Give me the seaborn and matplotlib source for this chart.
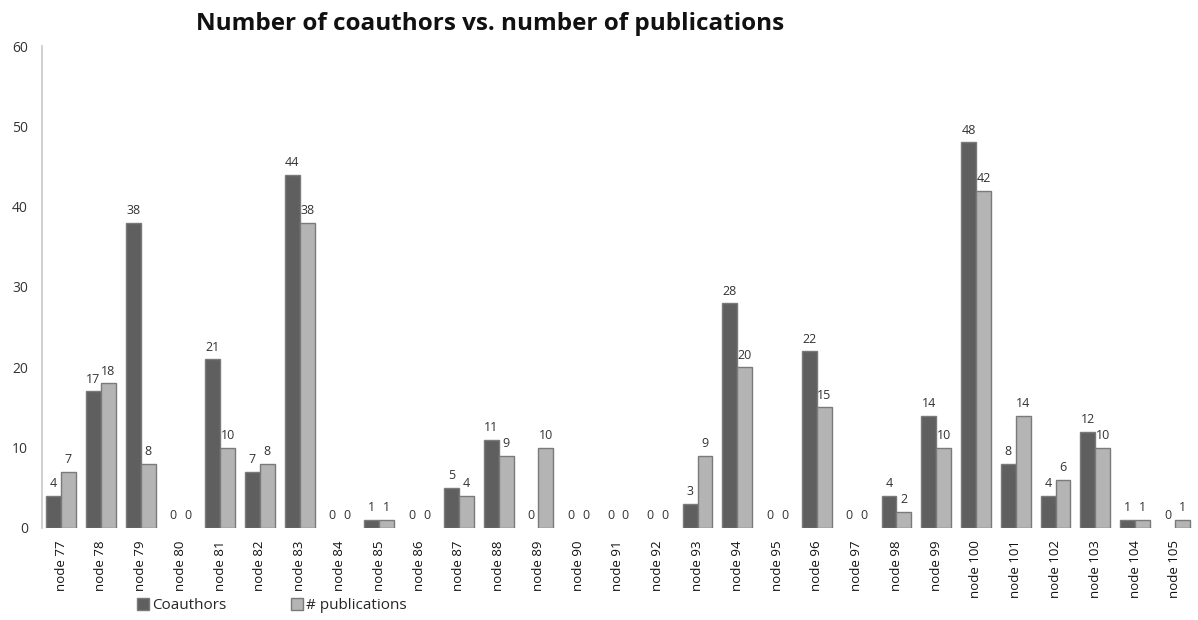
import matplotlib
matplotlib.use("Agg")
import matplotlib.pyplot as plt
import seaborn as sns
import pandas as pd
from matplotlib.patches import Patch

nodes = [f"node {i}" for i in range(77, 106)]
coauthors = [4, 17, 38, 0, 21, 7, 44, 0, 1, 0, 5, 11, 0, 0, 0, 0, 3, 28, 0, 22, 0, 4, 14, 48, 8, 4, 12, 1, 0]
publications = [7, 18, 8, 0, 10, 8, 38, 0, 1, 0, 4, 9, 10, 0, 0, 0, 9, 20, 0, 15, 0, 2, 10, 42, 14, 6, 10, 1, 1]
series_names = ["Coauthors", "# publications"]
y_ticks = [0, 10, 20, 30, 40, 50, 60]

df = pd.DataFrame({
    "node": nodes * 2,
    "value": coauthors + publications,
    "series": [series_names[0]] * len(nodes) + [series_names[1]] * len(nodes),
})

sns.set_style("white")
plt.rcParams["font.family"] = ["Open Sans", "DejaVu Sans"]

colors = {"Coauthors": "#5f5f5f", "# publications": "#b4b4b4"}

fig = plt.figure(figsize=(11.98, 6.2), dpi=100)
ax = fig.add_axes([0.035, 0.1484, 0.96, 0.7774])

sns.barplot(data=df, x="node", y="value", hue="series", palette=colors,
            width=0.75, edgecolor="#7a7a7a", linewidth=1.0, ax=ax,
            legend=False, order=nodes, hue_order=series_names)

# zero-height bars show no outline
for patch in ax.patches:
    if patch.get_height() == 0:
        patch.set_linewidth(0)

for cont in ax.containers:
    ax.bar_label(cont, fmt="%d", padding=4, fontsize=9, color="#333333")

ax.set_ylim(0, 60)
ax.set_xlim(-0.48, 28.43)
ax.set_yticks(y_ticks)
ax.set_yticklabels([str(t) for t in y_ticks], fontsize=10, color="#333333")
ax.tick_params(axis="y", length=0, pad=10)
ax.tick_params(axis="x", length=0, pad=9)
ax.set_xticks(range(len(nodes)))
ax.set_xticklabels(nodes, rotation=90, fontsize=9.5, color="#111111")
ax.set_xlabel("")
ax.set_ylabel("")
for side in ["top", "right", "bottom"]:
    ax.spines[side].set_visible(False)
ax.spines["left"].set_color("#c8c8c8")
ax.spines["left"].set_linewidth(1.2)

fig.text(0.409, 0.962, "Number of coauthors vs. number of publications",
         ha="center", va="center", fontsize=17.5, fontweight="bold", color="#111111")

handles = [Patch(facecolor=colors[s], edgecolor="#7a7a7a") for s in series_names]
fig.legend(handles, series_names, loc="center left", bbox_to_anchor=(0.103, 0.023),
           ncol=2, frameon=False, fontsize=11, handlelength=0.8, handleheight=0.8,
           handletextpad=0.2, columnspacing=4.2)

fig.savefig("out.png", dpi=100)
